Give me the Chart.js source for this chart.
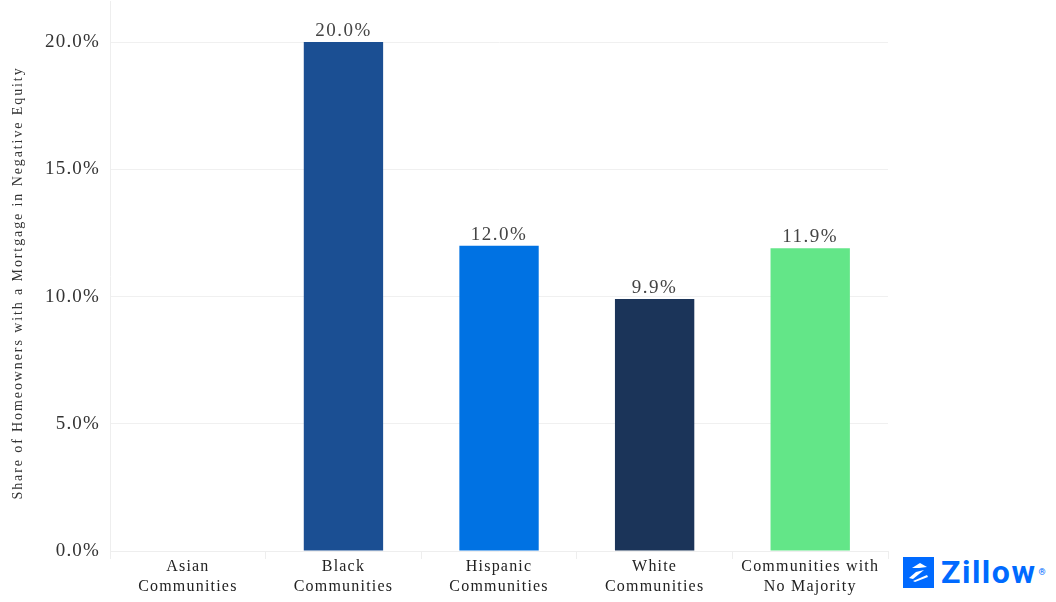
<!DOCTYPE html>
<html>
<head>
<meta charset="utf-8">
<script src="https://cdn.jsdelivr.net/npm/chart.js@4/dist/chart.umd.min.js"></script>
<style>
  body { margin: 0; background: #fff; overflow: hidden; }
  #wrap { position: relative; width: 1056px; height: 602px; overflow: hidden; }
  /* canvas pulled up so the plot area starts at the top edge */
  #box { position: absolute; left: 0; top: -20px; width: 896px; height: 622px; }
  #logo { position: absolute; left: 903px; top: 557px; display: flex; align-items: center; }
  #logo .mark { width: 31px; height: 31px; background: #006AFF; }
  #logo .word { font-family: Roboto, "Open Sans", sans-serif; font-weight: 700; font-size: 32px; color: #006AFF; margin-left: 7px; line-height: 31px; letter-spacing: 1.5px; }
  #logo sup { font-size: 9px; vertical-align: top; margin-left: 2px; }
</style>
</head>
<body>
<div id="wrap">
  <div id="box"><canvas id="chart"></canvas></div>
  <div id="logo">
    <svg class="mark" viewBox="0 0 31 31">
      <rect width="31" height="31" fill="#006AFF"/>
      <polygon points="9,11 17,6 24,10 16,11" fill="#fff"/>
      <polygon points="13,15 21,13 10,22 6,21" fill="#fff"/>
      <polygon points="10,24 24,18 25,20 12,25" fill="#fff"/>
    </svg>
    <span class="word">Zillow<sup>®</sup></span>
  </div>
</div>
<script>
// Share of homeowners with a mortgage in negative equity, by community
const categories = [
  ['Asian', 'Communities'],
  ['Black', 'Communities'],
  ['Hispanic', 'Communities'],
  ['White', 'Communities'],
  ['Communities with', 'No Majority']
];
const shares = [null, 20.0, 12.0, 9.9, 11.9];
const barColors = ['#1B4F93', '#1B4F93', '#0072E3', '#1B3459', '#63E688'];
const yTicks = [0, 5, 10, 15, 20];
const yTitle = 'Share of Homeowners with a Mortgage in Negative Equity';

const serif = '"Liberation Serif", "DejaVu Serif", serif';

// the reference text is set wide, so spread the letters a bit
const spacing = {
  id: 'spacing',
  beforeLayout(chart) { chart.ctx.letterSpacing = '1.2px'; },
  beforeDraw(chart) { chart.ctx.letterSpacing = '1.2px'; },
  afterDraw(chart) { chart.ctx.letterSpacing = '0px'; }
};

// value labels above bars + rotated y title
const labels = {
  id: 'labels',
  afterDatasetsDraw(chart) {
    const ctx = chart.ctx;
    const meta = chart.getDatasetMeta(0);
    ctx.save();
    ctx.letterSpacing = '1.5px';
    ctx.font = '19px ' + serif;
    ctx.fillStyle = '#444';
    ctx.textAlign = 'center';
    ctx.textBaseline = 'alphabetic';
    meta.data.forEach((bar, i) => {
      if (shares[i] == null) return;
      ctx.fillText(shares[i].toFixed(1) + '%', bar.x, bar.y - 6);
    });

    // title sits 20px lower in canvas space because of the shift
    ctx.translate(18, 303);
    ctx.rotate(-Math.PI / 2);
    ctx.letterSpacing = '1.9px';
    ctx.font = '14px ' + serif;
    ctx.fillStyle = '#333';
    ctx.textBaseline = 'middle';
    ctx.fillText(yTitle, 0, 0);
    ctx.restore();
  }
};

const ctx = document.getElementById('chart').getContext('2d');
new Chart(ctx, {
  type: 'bar',
  data: {
    labels: categories,
    datasets: [{
      data: shares,
      backgroundColor: barColors,
      barPercentage: 0.51,
      categoryPercentage: 1.0
    }]
  },
  options: {
    responsive: true,
    maintainAspectRatio: false,
    animation: false,
    layout: { padding: { top: 0, left: 35, right: 8, bottom: 7 } },
    plugins: {
      legend: { display: false },
      tooltip: { enabled: false }
    },
    scales: {
      x: {
        grid: {
          offset: true,
          drawOnChartArea: false,
          drawTicks: true,
          tickLength: 8,
          color: '#eeeeee'
        },
        border: { color: '#eeeeee' },
        ticks: {
          color: '#222',
          font: { family: serif, size: 16, lineHeight: 1.25 },
          padding: -2,
          maxRotation: 0
        }
      },
      y: {
        min: 0,
        max: 21.6,
        afterBuildTicks(axis) {
          axis.ticks = yTicks.map(v => ({ value: v }));
        },
        grid: { color: '#f0f0f0', drawTicks: false },
        border: { color: '#eeeeee' },
        ticks: {
          color: '#333',
          font: { family: serif, size: 19 },
          padding: 10,
          callback: v => v.toFixed(1) + '%'
        }
      }
    }
  },
  plugins: [spacing, labels]
});
</script>
</body>
</html>
